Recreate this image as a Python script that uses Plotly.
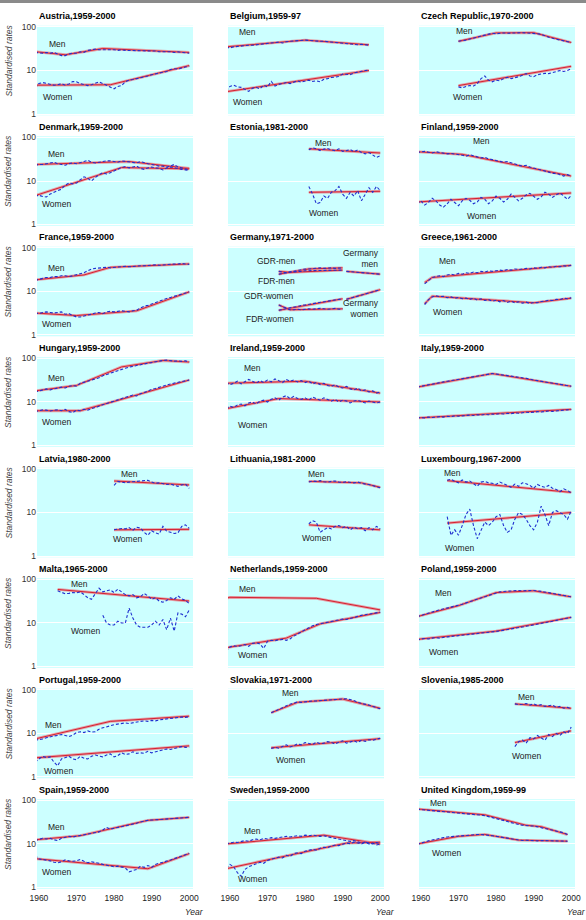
import math
import plotly.graph_objects as go

FIG_W, FIG_H = 586, 920
X_TICKS = [1960, 1970, 1980, 1990, 2000]
Y_TICKS = [1, 10, 100]
Y_TICK_TEXT = ["1", "10", "100"]

# ---------------- data ----------------
AUT_START = 1959
AUT_MEN_OBS = [26,25,25,26,25,26,24,22,22,24,25,25,27,26,29,30,31,30,30,31,30,30,29,30,29,29,28,29,28,28,29,28,28,27,27,28,27,26,27,26,26,25]
AUT_WOMEN_OBS = [4.0,5.0,5.3,5.0,4.8,4.6,4.7,5.0,4.6,4.9,5.6,5.5,5.0,4.8,4.5,4.7,5.0,5.5,5.0,4.6,4.2,3.8,4.3,4.5,5.5,6.0,6.2,6.5,6.6,7.2,7.5,8.0,8.3,8.6,9.2,9.5,10.5,11.0,10.8,11.5,12.0,12.5]
AUT_MEN_FIT_YEARS = [1959, 1967, 1977, 2000]
AUT_MEN_FIT = [27, 23, 32, 26]
AUT_WOMEN_FIT_YEARS = [1959, 1979, 2000]
AUT_WOMEN_FIT = [4.6, 4.7, 13]

BEL_START = 1959
BEL_MEN_OBS = [34,33,35,36,36,37,38,38,39,40,41,41,43,44,45,43,46,47,48,49,50,50,49,48,48,47,47,46,45,44,43,42,42,41,40,39,40,39,38]
BEL_WOMEN_OBS = [3.4,4.3,4.6,4.2,4.1,3.6,3.3,3.9,4.1,3.8,4.6,4.2,5.6,4.4,4.8,5.0,5.3,5.0,5.4,5.8,5.4,5.8,6.0,5.6,5.8,5.5,6.3,6.5,6.9,7.0,7.3,8.3,8.0,8.0,8.8,9.3,9.6,10.0,10.1]
BEL_MEN_FIT_YEARS = [1959, 1980, 1997]
BEL_MEN_FIT = [35, 50, 39]
BEL_WOMEN_FIT_YEARS = [1959, 1997]
BEL_WOMEN_FIT = [3.25, 10]

CZE_START = 1970
CZE_MEN_OBS = [47,48,50,53,55,58,62,65,68,72,70,72,73,72,73,74,75,74,73,72,73,70,68,62,58,55,52,50,48,46,44]
CZE_WOMEN_OBS = [4.2,4.0,4.3,4.5,4.4,5.0,6.5,7.5,6.0,5.5,6.0,5.8,6.5,7.0,6.5,6.8,7.2,7.8,8.5,7.5,7.2,8.0,8.3,8.6,8.5,9.0,9.3,10.0,9.5,10.0,11.0]
CZE_MEN_FIT_YEARS = [1970, 1980, 1990, 2000]
CZE_MEN_FIT = [47, 73, 74, 44]
CZE_WOMEN_FIT_YEARS = [1970, 2000]
CZE_WOMEN_FIT = [4.5, 12.5]

DNK_START = 1959
DNK_MEN_OBS = [23,24,24,25,26,27,25,24,23,25,26,25,27,28,30,27,26,27,28,29,29,28,27,29,28,27,26,26,28,27,25,24,23,22,22,21,22,24,21,20,19,18]
DNK_WOMEN_OBS = [4.5,4.7,4.4,4.3,5.0,5.6,6.0,6.5,8.0,9.0,8.6,9.0,10.5,12.5,11.5,10.0,12.0,14.0,15.5,14.5,15.5,17.0,19.0,20.5,21.5,20.0,21.0,22.0,19.5,18.5,20.0,21.0,20.0,19.5,18.0,20.0,21.0,20.0,19.0,18.5,18.0,17.5]
DNK_MEN_FIT_YEARS = [1959, 1984, 2000]
DNK_MEN_FIT = [24, 28, 19.5]
DNK_WOMEN_FIT_YEARS = [1959, 1982, 2000]
DNK_WOMEN_FIT = [4.6, 20.4, 19]

EST_START = 1981
EST_MEN_OBS = [52,58,55,50,54,56,52,50,55,48,50,53,47,52,45,42,45,40,35,38]
EST_WOMEN_OBS = [7.5,5.0,3.0,3.2,4.5,4.0,5.5,6.0,7.5,5.0,4.0,5.5,4.5,6.0,3.5,5.0,7.0,5.5,7.5,6.0]
EST_MEN_FIT_YEARS = [1981, 2000]
EST_MEN_FIT = [55, 44]
EST_WOMEN_FIT_YEARS = [1981, 2000]
EST_WOMEN_FIT = [5.5, 5.8]

FIN_START = 1959
FIN_MEN_OBS = [45,47,48,46,44,47,45,44,42,43,42,41,39,37,40,38,36,34,35,32,31,30,29,27,28,26,24,23,22,23,21,20,19,18,17,16,15,15,14,13,14,13]
FIN_WOMEN_OBS = [3.0,3.5,2.8,3.2,4.0,3.5,2.8,2.5,3.0,3.8,3.2,2.7,3.5,4.0,3.6,3.0,3.3,4.2,3.8,3.0,3.5,4.5,4.0,3.3,3.8,5.0,4.2,3.5,4.0,4.8,5.2,4.5,3.8,4.3,5.5,5.0,4.2,4.8,5.3,4.5,3.8,4.6]
FIN_MEN_FIT_YEARS = [1959, 1971, 2000]
FIN_MEN_FIT = [47, 41, 13]
FIN_WOMEN_FIT_YEARS = [1959, 2000]
FIN_WOMEN_FIT = [3.3, 5.3]

FRA_START = 1959
FRA_MEN_OBS = [18,19,20,21,21,22,22,23,23,22,23,24,25,27,30,33,34,35,36,36,35,36,37,37,38,37,38,38,39,39,40,40,41,40,41,42,42,43,43,44,43,42]
FRA_WOMEN_OBS = [3.2,3.1,3.3,3.4,3.3,3.2,3.3,3.4,3.0,3.1,2.8,2.6,2.6,2.7,2.8,3.0,3.2,3.3,3.1,3.4,3.5,3.4,3.5,3.6,3.5,3.4,3.6,3.7,4.2,4.6,4.8,5.2,5.6,6.0,6.5,6.9,7.3,7.8,8.3,8.8,9.3,9.8]
FRA_MEN_FIT_YEARS = [1959, 1972, 1979, 2000]
FRA_MEN_FIT = [18.5, 24, 36, 43]
FRA_WOMEN_FIT_YEARS = [1959, 1970, 1986, 2000]
FRA_WOMEN_FIT = [3.2, 2.8, 3.6, 9.8]

GER_EAST_START = 1973
GDR_MEN_OBS = [25,26,27,28,29,31,32,33,33,34,34,35,34,35,35,34,35,35]
FDR_MEN_OBS = [29,28,27,28,28,29,29,30,30,30,31,30,31,31,30,31,30,31]
GDR_WOMEN_OBS = [3.7,3.9,4.1,4.2,4.4,4.5,4.8,4.9,5.1,5.3,5.4,5.6,5.8,6.0,6.2,6.4,6.6,6.8]
FDR_WOMEN_OBS = [4.9,4.5,4.0,3.8,3.8,3.9,3.8,3.9,4.0,3.9,4.0,4.1,4.0,3.9,4.0,4.1,3.9,4.0]
GDR_MEN_FIT_YEARS = [1973, 1981, 1990]
GDR_MEN_FIT = [25, 33, 35]
FDR_MEN_FIT_YEARS = [1973, 1976, 1990]
FDR_MEN_FIT = [29, 27.5, 31]
GDR_WOMEN_FIT_YEARS = [1973, 1990]
GDR_WOMEN_FIT = [3.7, 6.8]
FDR_WOMEN_FIT_YEARS = [1973, 1976, 1990]
FDR_WOMEN_FIT = [4.9, 3.8, 4.0]
GER_UNI_START = 1991
GER_MEN_OBS = [29,28.5,28,28,27.5,27,26.5,26,25.5,25]
GER_WOMEN_OBS = [6.6,7.0,7.5,7.8,8.3,8.8,9.2,9.8,10.3,11.0]
GER_MEN_FIT_YEARS = [1991, 2000]
GER_MEN_FIT = [29, 25]
GER_WOMEN_FIT_YEARS = [1991, 2000]
GER_WOMEN_FIT = [6.6, 11]

GRC_START = 1961
GRC_MEN_OBS = [15,18,21,22,23,22,24,25,24,26,25,27,26,28,27,29,28,30,29,30,31,30,32,31,33,32,33,34,33,35,34,36,35,37,36,38,37,39,38,40]
GRC_WOMEN_OBS = [5.0,6.5,7.5,8.0,7.6,7.8,7.2,7.5,7.0,7.3,6.8,7.1,6.6,7.0,6.4,6.8,6.2,6.5,6.0,6.3,5.8,6.2,5.6,6.0,5.5,5.8,5.4,5.7,5.3,5.6,5.5,5.9,6.0,6.3,6.2,6.6,6.5,7.0,6.8,7.2]
GRC_MEN_FIT_YEARS = [1961, 1963, 2000]
GRC_MEN_FIT = [16, 21, 40]
GRC_WOMEN_FIT_YEARS = [1961, 1963, 1990, 2000]
GRC_WOMEN_FIT = [5.2, 7.8, 5.5, 7.0]

HUN_START = 1959
HUN_MEN_OBS = [17,18,19,20,19,20,21,22,21,23,24,23,27,28,30,32,34,36,40,43,46,49,52,56,60,63,65,68,72,75,78,82,85,88,90,92,89,87,88,86,88,83]
HUN_WOMEN_OBS = [6.0,6.4,6.6,6.5,6.2,6.5,6.6,6.3,6.8,6.0,5.7,6.5,6.3,6.8,6.5,7.0,7.6,8.0,8.6,9.2,9.8,10.5,11.0,12.0,12.5,13.5,14.5,13.8,15.5,16.5,18.0,19.5,20.5,21.5,23.0,24.5,26.0,27.0,28.5,30.0,31.0,32.0]
HUN_MEN_FIT_YEARS = [1959, 1970, 1982, 1993, 2000]
HUN_MEN_FIT = [18, 24, 64, 90, 83]
HUN_WOMEN_FIT_YEARS = [1959, 1971, 1980, 2000]
HUN_WOMEN_FIT = [6.3, 6.3, 10.3, 32]

IRL_START = 1959
IRL_MEN_OBS = [28,25,27,30,26,29,33,30,27,31,28,32,29,34,31,28,33,30,32,29,31,28,30,26,28,25,27,24,23,25,22,21,23,20,19,21,18,19,17,18,16,17]
IRL_WOMEN_OBS = [7.0,8.0,7.5,8.5,9.0,8.2,9.5,10.0,9.0,10.5,11.0,10.0,11.5,12.5,11.0,13.0,14.0,12.0,13.5,12.0,11.5,12.5,11.0,13.0,12.0,11.0,12.5,11.5,10.5,11.5,10.0,11.0,10.5,9.5,10.5,11.0,10.0,9.5,10.5,10.0,9.5,10.0]
IRL_MEN_FIT_YEARS = [1959, 1980, 2000]
IRL_MEN_FIT = [27, 30, 16]
IRL_WOMEN_FIT_YEARS = [1959, 1973, 2000]
IRL_WOMEN_FIT = [7, 12, 10]

ITA_START = 1959
ITA_MEN_OBS = [22,23,24,25,26,27,28,29,30,31,32,33,34,35,36,37,39,40,42,43,45,44,43,42,40,39,38,37,36,35,33,32,31,30,29,28,27,26,25,24,24,23]
ITA_WOMEN_OBS = [4.3,4.4,4.3,4.5,4.4,4.5,4.6,4.5,4.7,4.6,4.8,4.7,4.8,4.9,5.0,4.9,5.1,5.0,5.2,5.1,5.3,5.2,5.4,5.3,5.5,5.4,5.6,5.5,5.7,5.8,5.7,5.9,6.0,5.9,6.1,6.2,6.1,6.3,6.4,6.5,6.6,6.7]
ITA_MEN_FIT_YEARS = [1959, 1979, 2000]
ITA_MEN_FIT = [22, 45, 23]
ITA_WOMEN_FIT_YEARS = [1959, 2000]
ITA_WOMEN_FIT = [4.3, 6.8]

LVA_START = 1980
LVA_MEN_OBS = [42,52,50,48,50,51,50,52,53,55,50,47,48,46,44,45,42,40,43,45,36]
LVA_WOMEN_OBS = [4.0,4.1,4.3,4.2,4.5,3.9,4.6,4.4,3.5,3.0,3.8,3.4,3.2,4.8,3.7,3.5,3.3,3.4,4.8,5.2,4.3]
LVA_MEN_FIT_YEARS = [1980, 2000]
LVA_MEN_FIT = [53, 43]
LVA_WOMEN_FIT_YEARS = [1980, 2000]
LVA_WOMEN_FIT = [4.0, 4.1]

LTU_START = 1981
LTU_MEN_OBS = [50,53,52,54,51,50,52,53,50,49,51,50,48,50,47,45,44,42,40,37]
LTU_WOMEN_OBS = [5.5,6.5,6.0,3.5,4.0,4.5,4.2,4.8,5.0,4.5,4.8,4.0,4.6,4.2,4.5,3.8,4.5,4.0,4.8,4.2]
LTU_MEN_FIT_YEARS = [1981, 1995, 2000]
LTU_MEN_FIT = [52, 48, 38]
LTU_WOMEN_FIT_YEARS = [1981, 2000]
LTU_WOMEN_FIT = [5.2, 4.0]

LUX_START = 1967
LUX_MEN_OBS = [55,58,52,48,56,50,53,45,40,50,52,48,47,44,50,46,42,38,45,40,48,46,42,36,44,40,38,42,36,34,30,35,32,28]
LUX_WOMEN_OBS = [8,3,4,3,5,9,12,5,2.5,4,6,5,6,8,9,5,3.5,4,7,10,9,7,5,4,6,14,9,5,10,11,10,9,7,11]
LUX_MEN_FIT_YEARS = [1967, 2000]
LUX_MEN_FIT = [54, 29]
LUX_WOMEN_FIT_YEARS = [1967, 2000]
LUX_WOMEN_FIT = [5.7, 10]

MLT_MEN_START = 1965
MLT_MEN_OBS = [55,50,47,48,50,49,52,45,38,35,48,63,52,55,58,50,60,52,45,42,45,38,40,48,42,35,38,32,30,33,38,35,42,36,33,28]
MLT_WOMEN_START = 1977
MLT_WOMEN_OBS = [15,10,9,9,11,10,10,22,13,9,8,8,8,9,11,9,12,7,13,6.5,17,16,14,20]
MLT_MEN_FIT_YEARS = [1965, 2000]
MLT_MEN_FIT = [59, 32]

NLD_START = 1959
NLD_WOMEN_OBS = [2.2,2.8,3.0,2.9,3.0,3.2,2.9,3.4,3.5,3.3,2.6,3.8,4.0,3.9,4.1,4.2,4.0,4.3,5.0,5.5,6.2,7.0,7.8,8.6,9.2,9.6,10.0,10.5,11.0,11.5,12.0,12.3,12.0,12.8,13.5,14.5,15.0,15.5,16.0,16.5,17.0,17.8]
NLD_MEN_FIT_YEARS = [1959, 1960, 1983, 2000]
NLD_MEN_FIT = [37, 39, 37, 20]
NLD_WOMEN_FIT_YEARS = [1959, 1975, 1984, 2000]
NLD_WOMEN_FIT = [2.7, 4.5, 9.5, 17.5]

POL_START = 1959
POL_MEN_OBS = [14,15,16,17,18,19,20,21,22,23,24,25,27,29,31,33,35,38,41,44,47,50,52,53,54,54,55,56,55,56,55,56,55,54,52,50,48,46,45,43,42,40]
POL_WOMEN_OBS = [4.0,4.3,4.4,4.3,4.5,4.6,4.5,4.7,4.8,4.9,5.0,5.1,5.2,5.3,5.4,5.5,5.6,5.7,5.9,6.0,6.2,6.4,6.6,6.8,7.0,7.2,7.5,7.8,8.1,8.4,8.7,9.0,9.4,9.8,10.2,10.6,11.0,11.5,12.0,12.5,13.0,13.5]
POL_MEN_FIT_YEARS = [1959, 1970, 1980, 1990, 2000]
POL_MEN_FIT = [14, 25, 50, 55, 40]
POL_WOMEN_FIT_YEARS = [1959, 1980, 2000]
POL_WOMEN_FIT = [4.2, 6.5, 13.5]

PRT_START = 1959
PRT_MEN_OBS = [7.0,7.2,7.5,8.0,8.5,8.8,9.0,9.5,9.0,8.5,9.2,10.5,11.0,10.5,11.5,10.8,11.0,12.5,13.5,14.5,15.0,16.0,16.5,17.0,17.5,17.0,17.8,18.5,19.0,19.5,19.0,20.0,19.5,20.5,21.0,21.5,22.0,22.5,23.0,24.0,23.5,24.5]
PRT_WOMEN_OBS = [2.2,2.6,3.0,2.8,2.9,2.2,1.8,2.6,2.8,3.0,2.6,2.5,3.0,2.7,2.6,3.0,3.2,3.0,2.9,3.2,3.4,2.9,3.1,3.6,3.3,3.4,3.8,3.5,3.6,3.5,3.9,3.6,3.8,4.0,4.1,4.4,4.3,4.5,4.6,5.0,4.8,4.9]
PRT_MEN_FIT_YEARS = [1959, 1970, 1979, 2000]
PRT_MEN_FIT = [7.5, 12.5, 19, 25]
PRT_WOMEN_FIT_YEARS = [1959, 2000]
PRT_WOMEN_FIT = [2.75, 5.2]

SVK_START = 1971
SVK_MEN_OBS = [30,33,36,40,44,47,50,53,52,54,55,56,56,57,58,57,59,60,61,62,63,60,57,52,50,47,45,42,40,37]
SVK_WOMEN_OBS = [4.5,4.8,4.6,5.0,5.5,4.9,5.2,5.8,5.5,6.2,6.0,5.6,6.3,5.8,6.0,6.5,6.2,5.7,6.3,6.8,6.0,6.5,6.8,6.2,7.0,6.6,7.2,7.0,7.5,7.8]
SVK_MEN_FIT_YEARS = [1971, 1978, 1990, 2000]
SVK_MEN_FIT = [30, 52, 62, 38]
SVK_WOMEN_FIT_YEARS = [1971, 2000]
SVK_WOMEN_FIT = [4.7, 7.6]

SVN_START = 1985
SVN_MEN_OBS = [48,46,47,49,45,48,44,46,42,44,45,40,42,38,40,37]
SVN_WOMEN_OBS = [5.0,6.5,7.0,6.0,8.0,7.5,9.0,8.0,7.0,9.5,8.5,10.0,9.0,11.0,10.0,14.0]
SVN_MEN_FIT_YEARS = [1985, 2000]
SVN_MEN_FIT = [48, 38]
SVN_WOMEN_FIT_YEARS = [1985, 2000]
SVN_WOMEN_FIT = [6.2, 11.5]

ESP_START = 1959
ESP_MEN_OBS = [12.0,12.5,13.5,13.0,13.5,12.5,12.0,13.5,14.5,15.0,14.5,15.0,15.5,16.0,17.0,17.5,18.0,19.0,21.0,24.0,22.0,23.0,24.0,25.0,26.0,27.0,28.0,30.0,32.0,34.0,35.0,35.5,36.0,36.5,37.0,37.5,38.0,38.5,39.0,39.5,40.0,41.0]
ESP_WOMEN_OBS = [5.5,4.5,4.4,4.3,4.1,3.8,3.7,3.9,4.3,4.1,4.0,4.1,4.4,4.0,3.7,3.9,3.8,3.6,3.4,3.3,3.2,3.0,3.1,3.0,2.8,2.3,2.4,2.6,3.1,2.9,3.2,2.9,3.4,3.6,3.7,4.0,4.3,4.6,4.9,5.3,5.7,6.1]
ESP_MEN_FIT_YEARS = [1959, 1971, 1989, 2000]
ESP_MEN_FIT = [12.5, 15.5, 35, 41]
ESP_WOMEN_FIT_YEARS = [1959, 1989, 2000]
ESP_WOMEN_FIT = [4.6, 2.7, 6.0]

SWE_START = 1959
SWE_MEN_OBS = [10,10.5,11,10.8,11.5,12,11.5,12.5,13,12.5,13.5,13,14,13.5,14,14.5,15,14.5,15,15.5,15,16,15.5,16,15.5,15,15.5,14.5,14,13.5,13,12.5,12,11.5,12,11,10.5,11,10,10.5,9.5,10]
SWE_WOMEN_OBS = [2.8,3.4,3.0,2.2,1.8,2.6,3.0,3.2,3.5,3.8,3.6,4.2,4.4,4.6,5.0,4.8,5.5,5.2,6.0,6.3,6.0,6.8,7.0,7.5,7.2,8.0,8.4,8.2,9.0,9.5,9.2,10.0,10.5,10.2,11.0,10.5,10.0,11.0,10.5,10.0,10.8,10.2]
SWE_MEN_FIT_YEARS = [1959, 1985, 2000]
SWE_MEN_FIT = [10, 16, 10]
SWE_WOMEN_FIT_YEARS = [1959, 1991, 2000]
SWE_WOMEN_FIT = [2.7, 10.5, 11]

GBR_START = 1959
GBR_MEN_OBS = [63,62,61,60,59,58,57,56,55,54,53,52,51,50,49,48,47,46,45,43,41,39,37,35,33,31,29,28,27,26,26,26,25,24,23,22,21,20,19,18,16.5]
GBR_WOMEN_OBS = [9.8,10.5,11.0,11.8,12.3,13.0,13.5,14.0,14.5,14.8,15.0,15.3,15.5,15.8,16.0,16.2,16.5,16.5,16.3,16.0,15.5,15.0,14.5,14.0,13.5,13.0,12.5,12.2,12.0,12.2,12.0,12.1,11.8,12.0,11.9,11.8,11.7,11.8,11.6,11.5,11.6]
GBR_MEN_FIT_YEARS = [1959, 1977, 1988, 1992, 1999]
GBR_MEN_FIT = [64, 47, 27, 25, 16.5]
GBR_WOMEN_FIT_YEARS = [1959, 1970, 1977, 1986, 1999]
GBR_WOMEN_FIT = [10, 15, 16.6, 12.3, 11.6]

TITLES = ["Austria,1959-2000", "Belgium,1959-97", "Czech Republic,1970-2000",
          "Denmark,1959-2000", "Estonia,1981-2000", "Finland,1959-2000",
          "France,1959-2000", "Germany,1971-2000", "Greece,1961-2000",
          "Hungary,1959-2000", "Ireland,1959-2000", "Italy,1959-2000",
          "Latvia,1980-2000", "Lithuania,1981-2000", "Luxembourg,1967-2000",
          "Malta,1965-2000", "Netherlands,1959-2000", "Poland,1959-2000",
          "Portugal,1959-2000", "Slovakia,1971-2000", "Slovenia,1985-2000",
          "Spain,1959-2000", "Sweden,1959-2000", "United Kingdom,1959-99"]

# each series: (first year of observations, observations, fit years, fit values)
PANELS = [
    [(AUT_START, AUT_MEN_OBS, AUT_MEN_FIT_YEARS, AUT_MEN_FIT), (AUT_START, AUT_WOMEN_OBS, AUT_WOMEN_FIT_YEARS, AUT_WOMEN_FIT)],
    [(BEL_START, BEL_MEN_OBS, BEL_MEN_FIT_YEARS, BEL_MEN_FIT), (BEL_START, BEL_WOMEN_OBS, BEL_WOMEN_FIT_YEARS, BEL_WOMEN_FIT)],
    [(CZE_START, CZE_MEN_OBS, CZE_MEN_FIT_YEARS, CZE_MEN_FIT), (CZE_START, CZE_WOMEN_OBS, CZE_WOMEN_FIT_YEARS, CZE_WOMEN_FIT)],
    [(DNK_START, DNK_MEN_OBS, DNK_MEN_FIT_YEARS, DNK_MEN_FIT), (DNK_START, DNK_WOMEN_OBS, DNK_WOMEN_FIT_YEARS, DNK_WOMEN_FIT)],
    [(EST_START, EST_MEN_OBS, EST_MEN_FIT_YEARS, EST_MEN_FIT), (EST_START, EST_WOMEN_OBS, EST_WOMEN_FIT_YEARS, EST_WOMEN_FIT)],
    [(FIN_START, FIN_MEN_OBS, FIN_MEN_FIT_YEARS, FIN_MEN_FIT), (FIN_START, FIN_WOMEN_OBS, FIN_WOMEN_FIT_YEARS, FIN_WOMEN_FIT)],
    [(FRA_START, FRA_MEN_OBS, FRA_MEN_FIT_YEARS, FRA_MEN_FIT), (FRA_START, FRA_WOMEN_OBS, FRA_WOMEN_FIT_YEARS, FRA_WOMEN_FIT)],
    [(GER_EAST_START, GDR_MEN_OBS, GDR_MEN_FIT_YEARS, GDR_MEN_FIT), (GER_EAST_START, FDR_MEN_OBS, FDR_MEN_FIT_YEARS, FDR_MEN_FIT),
     (GER_EAST_START, GDR_WOMEN_OBS, GDR_WOMEN_FIT_YEARS, GDR_WOMEN_FIT), (GER_EAST_START, FDR_WOMEN_OBS, FDR_WOMEN_FIT_YEARS, FDR_WOMEN_FIT),
     (GER_UNI_START, GER_MEN_OBS, GER_MEN_FIT_YEARS, GER_MEN_FIT), (GER_UNI_START, GER_WOMEN_OBS, GER_WOMEN_FIT_YEARS, GER_WOMEN_FIT)],
    [(GRC_START, GRC_MEN_OBS, GRC_MEN_FIT_YEARS, GRC_MEN_FIT), (GRC_START, GRC_WOMEN_OBS, GRC_WOMEN_FIT_YEARS, GRC_WOMEN_FIT)],
    [(HUN_START, HUN_MEN_OBS, HUN_MEN_FIT_YEARS, HUN_MEN_FIT), (HUN_START, HUN_WOMEN_OBS, HUN_WOMEN_FIT_YEARS, HUN_WOMEN_FIT)],
    [(IRL_START, IRL_MEN_OBS, IRL_MEN_FIT_YEARS, IRL_MEN_FIT), (IRL_START, IRL_WOMEN_OBS, IRL_WOMEN_FIT_YEARS, IRL_WOMEN_FIT)],
    [(ITA_START, ITA_MEN_OBS, ITA_MEN_FIT_YEARS, ITA_MEN_FIT), (ITA_START, ITA_WOMEN_OBS, ITA_WOMEN_FIT_YEARS, ITA_WOMEN_FIT)],
    [(LVA_START, LVA_MEN_OBS, LVA_MEN_FIT_YEARS, LVA_MEN_FIT), (LVA_START, LVA_WOMEN_OBS, LVA_WOMEN_FIT_YEARS, LVA_WOMEN_FIT)],
    [(LTU_START, LTU_MEN_OBS, LTU_MEN_FIT_YEARS, LTU_MEN_FIT), (LTU_START, LTU_WOMEN_OBS, LTU_WOMEN_FIT_YEARS, LTU_WOMEN_FIT)],
    [(LUX_START, LUX_MEN_OBS, LUX_MEN_FIT_YEARS, LUX_MEN_FIT), (LUX_START, LUX_WOMEN_OBS, LUX_WOMEN_FIT_YEARS, LUX_WOMEN_FIT)],
    [(MLT_MEN_START, MLT_MEN_OBS, MLT_MEN_FIT_YEARS, MLT_MEN_FIT), (MLT_WOMEN_START, MLT_WOMEN_OBS, None, None)],
    [(NLD_START, None, NLD_MEN_FIT_YEARS, NLD_MEN_FIT), (NLD_START, NLD_WOMEN_OBS, NLD_WOMEN_FIT_YEARS, NLD_WOMEN_FIT)],
    [(POL_START, POL_MEN_OBS, POL_MEN_FIT_YEARS, POL_MEN_FIT), (POL_START, POL_WOMEN_OBS, POL_WOMEN_FIT_YEARS, POL_WOMEN_FIT)],
    [(PRT_START, PRT_MEN_OBS, PRT_MEN_FIT_YEARS, PRT_MEN_FIT), (PRT_START, PRT_WOMEN_OBS, PRT_WOMEN_FIT_YEARS, PRT_WOMEN_FIT)],
    [(SVK_START, SVK_MEN_OBS, SVK_MEN_FIT_YEARS, SVK_MEN_FIT), (SVK_START, SVK_WOMEN_OBS, SVK_WOMEN_FIT_YEARS, SVK_WOMEN_FIT)],
    [(SVN_START, SVN_MEN_OBS, SVN_MEN_FIT_YEARS, SVN_MEN_FIT), (SVN_START, SVN_WOMEN_OBS, SVN_WOMEN_FIT_YEARS, SVN_WOMEN_FIT)],
    [(ESP_START, ESP_MEN_OBS, ESP_MEN_FIT_YEARS, ESP_MEN_FIT), (ESP_START, ESP_WOMEN_OBS, ESP_WOMEN_FIT_YEARS, ESP_WOMEN_FIT)],
    [(SWE_START, SWE_MEN_OBS, SWE_MEN_FIT_YEARS, SWE_MEN_FIT), (SWE_START, SWE_WOMEN_OBS, SWE_WOMEN_FIT_YEARS, SWE_WOMEN_FIT)],
    [(GBR_START, GBR_MEN_OBS, GBR_MEN_FIT_YEARS, GBR_MEN_FIT), (GBR_START, GBR_WOMEN_OBS, GBR_WOMEN_FIT_YEARS, GBR_WOMEN_FIT)],
]

# ---------------- layout / styling ----------------
FONT = "Liberation Sans, Arial, Helvetica, sans-serif"
BG = "#CCFFFF"
RED = "#D42030"
HALO = "rgba(236,120,130,0.7)"
BLUE = "#2030D0"
COLS = [(37, 193), (228, 384), (419, 575)]
ROW_TOP100 = [27 + 110.5 * k for k in range(8)]
SPAN = 87.0  # pixels from 100 to 1
PAD = 0.03
X_RANGE = [1959.5, 2001]
TITLE_SIZE = 9
TEXT_SIZE = 8.5

# label positions: (text, year, value)
LABELS = {
    0: [("Men", 1965, 41), ("Women", 1965, 2.5)],
    1: [("Men", 1964.6, 75), ("Women", 1964.8, 1.9)],
    2: [("Men", 1971.5, 79), ("Women", 1972.3, 2.4)],
    3: [("Men", 1964.8, 41), ("Women", 1964.8, 3.0)],
    4: [("Men", 1985, 75), ("Women", 1985, 1.8)],
    5: [("Men", 1976, 85), ("Women", 1976, 1.6)],
    6: [("Men", 1964.8, 34), ("Women", 1964.8, 1.75)],
    7: [("GDR-men", 1972.5, 50), ("FDR-men", 1972.5, 17), ("GDR-women", 1970.4, 7.7), ("FDR-women", 1970.6, 2.3)],
    8: [("Men", 1967, 50), ("Women", 1967, 3.3)],
    9: [("Men", 1964.8, 35), ("Women", 1964.8, 3.4)],
    10: [("Men", 1966, 60), ("Women", 1966, 3.0)],
    12: [("Men", 1984.2, 76), ("Women", 1983.7, 2.5)],
    13: [("Men", 1983, 76), ("Women", 1983, 2.6)],
    14: [("Men", 1968.5, 79), ("Women", 1970.4, 1.5)],
    15: [("Men", 1970.7, 79), ("Women", 1972.3, 6.5)],
    16: [("Men", 1964.6, 62), ("Women", 1965.9, 1.8)],
    17: [("Men", 1966, 50), ("Women", 1966, 2.2)],
    18: [("Men", 1963.8, 15.4), ("Women", 1965.1, 1.4)],
    19: [("Men", 1976, 85), ("Women", 1976, 2.5)],
    20: [("Men", 1988, 70), ("Women", 1988, 3.0)],
    21: [("Men", 1964.8, 24), ("Women", 1964.8, 2.3)],
    22: [("Men", 1966, 20), ("Women", 1966, 1.6)],
    23: [("Men", 1964.8, 89), ("Women", 1966.7, 6.3)],
}
RIGHT_LABELS = {7: [("Germany<br>men", 2000.3, 10 ** 1.76), ("Germany<br>women", 2000.3, 10 ** 0.6)]}


def px_x(p):
    return p / FIG_W


def px_y(p):
    return 1 - p / FIG_H


fig = go.Figure()
layout = dict(
    width=FIG_W, height=FIG_H, margin=dict(l=0, r=0, t=0, b=0, autoexpand=False),
    paper_bgcolor="white", plot_bgcolor=BG, showlegend=False,
    font=dict(family=FONT, size=TEXT_SIZE, color="#222"),
)
annotations = []
shapes = [dict(type="rect", xref="paper", yref="paper", x0=0, x1=1,
               y0=px_y(3), y1=1, fillcolor="#8a8a8a", line_width=0, layer="above")]

for i, series in enumerate(PANELS):
    r, c = divmod(i, 3)
    n = i + 1
    xa = "x" if n == 1 else f"x{n}"
    ya = "y" if n == 1 else f"y{n}"
    y100 = ROW_TOP100[r]
    top = y100 - PAD * SPAN / 2
    bot = y100 + SPAN + PAD * SPAN / 2
    x0, x1 = COLS[c]
    layout["xaxis" if n == 1 else f"xaxis{n}"] = dict(
        domain=[px_x(x0), px_x(x1)], range=X_RANGE, anchor=ya, automargin=False,
        showgrid=False, zeroline=False, showline=False, ticks="",
        tickvals=X_TICKS, showticklabels=(r == 7), ticklabelstandoff=3,
        tickfont=dict(size=TEXT_SIZE, color="#222"), fixedrange=True)
    layout["yaxis" if n == 1 else f"yaxis{n}"] = dict(
        domain=[px_y(bot), px_y(top)], type="log", range=[-PAD, 2 + PAD],
        anchor=xa, automargin=False, tickvals=Y_TICKS, ticktext=Y_TICK_TEXT,
        showticklabels=(c == 0), ticks="", showgrid=True, gridcolor="white",
        gridwidth=1, zeroline=False, showline=False,
        tickfont=dict(size=TEXT_SIZE, color="#333"), fixedrange=True)

    for start, obs, fx, fy in series:
        if fx is not None:
            fig.add_trace(go.Scatter(x=fx, y=fy, mode="lines", xaxis=xa, yaxis=ya,
                                     line=dict(color=HALO, width=2.8), hoverinfo="skip"))
            fig.add_trace(go.Scatter(x=fx, y=fy, mode="lines", xaxis=xa, yaxis=ya,
                                     line=dict(color=RED, width=1.0), hoverinfo="skip"))
    for start, obs, fx, fy in series:
        if obs is not None:
            yrs = list(range(start, start + len(obs)))
            fig.add_trace(go.Scatter(x=yrs, y=obs, mode="lines", xaxis=xa, yaxis=ya,
                                     line=dict(color=BLUE, width=1.1, dash="3px,2px"),
                                     hoverinfo="skip"))

    annotations.append(dict(text=f"<b>{TITLES[i]}</b>", xref="paper", yref="paper",
                            x=px_x(x0), y=px_y(y100 - 10.5), xanchor="left", yanchor="middle",
                            showarrow=False, font=dict(size=TITLE_SIZE, color="black")))
    if c == 0:
        annotations.append(dict(text="<i>Standardised rates</i>", xref="paper", yref="paper",
                                x=px_x(8), y=px_y(y100 + SPAN / 2 - 10), textangle=-90,
                                xanchor="center", yanchor="middle", showarrow=False,
                                font=dict(size=TEXT_SIZE, color="#444")))
    for text, yr, val in LABELS.get(i, []):
        annotations.append(dict(text=text, xref=xa, yref=ya, x=yr, y=math.log10(val),
                                xanchor="center", yanchor="middle", showarrow=False,
                                font=dict(size=TEXT_SIZE, color="#222")))
    for text, yr, val in RIGHT_LABELS.get(i, []):
        annotations.append(dict(text=text, xref=xa, yref=ya, x=yr, y=math.log10(val),
                                xanchor="right", yanchor="middle", align="right",
                                showarrow=False, font=dict(size=TEXT_SIZE, color="#222")))
    if r == 7:
        annotations.append(dict(text="<i>Year</i>", xref="paper", yref="paper",
                                x=px_x(min(x1 + 1, FIG_W - 10)), y=px_y(912), xanchor="center",
                                yanchor="middle", showarrow=False,
                                font=dict(size=TEXT_SIZE, color="#222")))

layout["annotations"] = annotations
layout["shapes"] = shapes
fig.update_layout(**layout)
fig.write_html(
    "out.html",
    config={"displayModeBar": False, "staticPlot": True},
    post_script="document.body.style.margin='0';document.body.style.overflow='hidden';"
                "document.documentElement.style.overflow='hidden';",
)
